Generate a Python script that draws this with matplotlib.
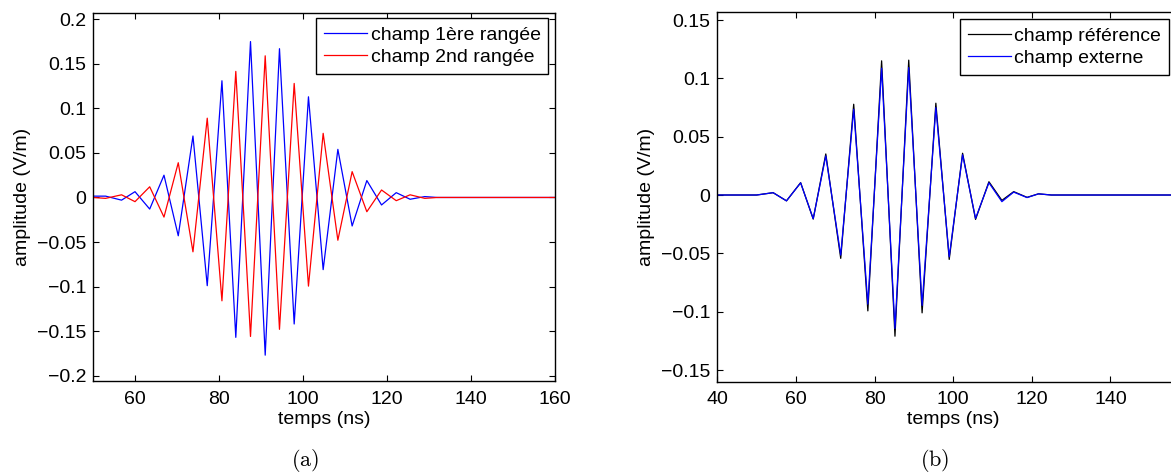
import matplotlib
matplotlib.use("Agg")
import matplotlib.pyplot as plt
from matplotlib.ticker import FuncFormatter

plt.rcParams['font.family'] = ['Liberation Sans', 'DejaVu Sans']
plt.rcParams['mathtext.fontset'] = 'cm'

# (a) champ 1ere / 2nd rangee : extremums
t_a = [50, 53, 56.8, 60, 63.5, 66.9, 70.3, 73.8, 77.2, 80.7, 84, 87.5, 91,
       94.4, 97.9, 101.3, 104.8, 108.3, 111.7, 115.2, 118.7, 122.2, 125.5,
       129, 132, 160]
rangee1 = [0.0015, 0.0015, -0.003, 0.0065, -0.013, 0.025, -0.043, 0.069, -0.099,
           0.131, -0.157, 0.175, -0.177, 0.167, -0.142, 0.113, -0.081, 0.054,
           -0.032, 0.019, -0.0084, 0.0054, -0.002, 0.001, 0, 0]
rangee2 = [0, -0.001, 0.003, -0.0047, 0.012, -0.022, 0.039, -0.061, 0.089,
           -0.116, 0.1415, -0.156, 0.159, -0.148, 0.128, -0.0995, 0.072, -0.048,
           0.029, -0.016, 0.0084, -0.0036, 0.003, -0.001, 0, 0]

# (b) champ reference / externe
t_b = [40, 50, 54.2, 57.6, 61.2, 64.4, 67.6, 71.4, 74.7, 78.3, 81.8, 85.2, 88.7,
       92.1, 95.6, 99.0, 102.4, 105.7, 109.1, 112.4, 115.4, 118.8, 121.7, 125, 160]
reference = [0, 0, 0.002, -0.005, 0.0106, -0.0206, 0.0352, -0.0543, 0.0778,
             -0.0993, 0.115, -0.121, 0.1156, -0.101, 0.0787, -0.0552, 0.0358,
             -0.0209, 0.0114, -0.0046, 0.0029, -0.002, 0.001, 0, 0]
externe = [0, 0, 0.002, -0.005, 0.0104, -0.0203, 0.0335, -0.0515, 0.0735,
           -0.0935, 0.1087, -0.1144, 0.1092, -0.0946, 0.0749, -0.053, 0.0345,
           -0.020, 0.0105, -0.0057, 0.0025, -0.0022, 0.001, 0, 0]

W, H = 1171, 474
FS = 14
fig = plt.figure(figsize=(W / 100, H / 100), dpi=100)

def fmt(v, pos):
    s = '%g' % round(v, 4)
    if s == '-0':
        s = '0'
    return s.replace('-', '\u2212')

def style(ax):
    ax.tick_params(direction='in', length=4, width=0.8, top=True, right=True,
                   labelsize=FS, pad=5)
    ax.tick_params(axis='x', pad=7)
    ax.yaxis.set_major_formatter(FuncFormatter(fmt))
    for s in ax.spines.values():
        s.set_linewidth(1.0)
    ax.set_xlabel('temps (ns)', fontsize=FS, labelpad=2)
    ax.set_ylabel('amplitude (V/m)', fontsize=FS, labelpad=4)

def legend(ax, loc, anchor):
    leg = ax.legend(loc=loc, bbox_to_anchor=(anchor[0] / W, 1 - anchor[1] / H),
                    bbox_transform=fig.transFigure, borderaxespad=0, fancybox=False,
                    edgecolor='black', fontsize=FS, handlelength=2.2,
                    handletextpad=0.2, labelspacing=0.25, borderpad=0.4,
                    framealpha=1)
    leg.get_frame().set_linewidth(1.0)

ax1 = fig.add_axes([93 / W, 1 - 381 / H, (555 - 93) / W, (381 - 12.7) / H])
ax1.plot(t_a, rangee1, color='blue', lw=0.9, label='champ 1ère rangée')
ax1.plot(t_a, rangee2, color='red', lw=0.9, label='champ 2nd rangée')
ax1.set_xlim(50, 160)
ax1.set_ylim(-0.206, 0.2074)
ax1.set_xticks([60, 80, 100, 120, 140, 160])
ax1.set_yticks([-0.2, -0.15, -0.1, -0.05, 0, 0.05, 0.1, 0.15, 0.2])
style(ax1)
legend(ax1, 'upper right', (548.3, 18.3))

ax2 = fig.add_axes([717.3 / W, 1 - 381.7 / H, (1189 - 717.3) / W, (381.7 - 12.3) / H])
ax2.plot(t_b, reference, color='black', lw=0.9, label='champ référence')
ax2.plot(t_b, externe, color='blue', lw=0.9, label='champ externe')
ax2.set_xlim(40, 160)
ax2.set_ylim(-0.16, 0.1566)
ax2.set_xticks([40, 60, 80, 100, 120, 140])
ax2.set_yticks([-0.15, -0.1, -0.05, 0, 0.05, 0.1, 0.15])
style(ax2)
legend(ax2, 'upper left', (960, 19.3))

fig.text(305 / W, 1 - 460 / H, r'$\mathrm{(a)}$', ha='center', va='center', fontsize=16)
fig.text(935 / W, 1 - 460 / H, r'$\mathrm{(b)}$', ha='center', va='center', fontsize=16)

fig.savefig('out.png', dpi=100)
